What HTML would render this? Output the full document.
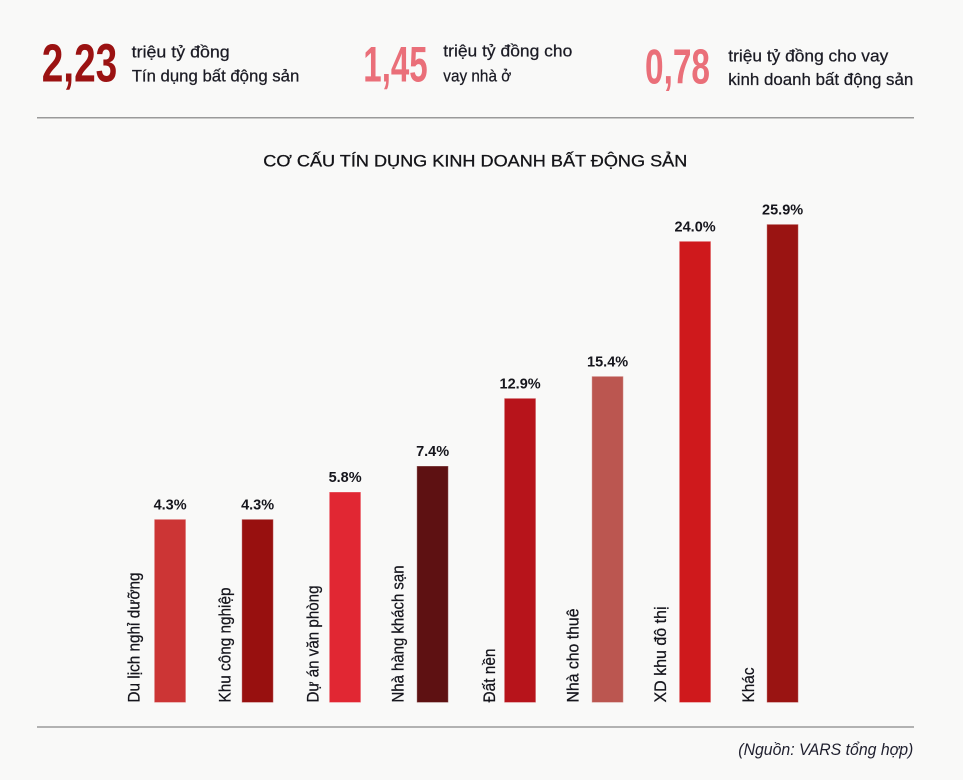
<!DOCTYPE html>
<html><head><meta charset="utf-8"><style>
html,body{margin:0;padding:0;background:#f9f9f8;}
svg{display:block;}
text{font-family:"Liberation Sans","DejaVu Sans",sans-serif;}
</style></head><body>
<svg width="963" height="780" viewBox="0 0 963 780" xmlns="http://www.w3.org/2000/svg">
<rect width="963" height="780" fill="#f9f9f8"/>
<!-- header numbers -->
<text x="41.7" y="81.7" font-size="53.5" font-weight="bold" fill="#9b1212" textLength="75.6" lengthAdjust="spacingAndGlyphs">2,23</text>
<text x="363.3" y="81.7" font-size="49.6" font-weight="bold" fill="#ea6f79" textLength="64.4" lengthAdjust="spacingAndGlyphs">1,45</text>
<text x="645" y="83.3" font-size="49" font-weight="bold" fill="#ea6f79" textLength="65" lengthAdjust="spacingAndGlyphs">0,78</text>
<!-- header descriptions -->
<g font-size="17" fill="#1b1b24" stroke="#1b1b24" stroke-width="0.25">
<text x="131.7" y="57.3" textLength="98" lengthAdjust="spacingAndGlyphs">triệu tỷ đồng</text>
<text x="131.7" y="81.7" textLength="167.6" lengthAdjust="spacingAndGlyphs">Tín dụng bất động sản</text>
<text x="443.3" y="56.7" textLength="129" lengthAdjust="spacingAndGlyphs">triệu tỷ đồng cho</text>
<text x="443.3" y="81.7" textLength="68" lengthAdjust="spacingAndGlyphs">vay nhà ở</text>
<text x="728.3" y="61.7" textLength="160" lengthAdjust="spacingAndGlyphs">triệu tỷ đồng cho vay</text>
<text x="728.3" y="85" textLength="185" lengthAdjust="spacingAndGlyphs">kinh doanh bất động sản</text>
</g>
<line x1="37" y1="117.7" x2="914" y2="117.7" stroke="#9a9a9a" stroke-width="1.5"/>
<!-- title -->
<text x="263.3" y="166.7" font-size="17" fill="#141418" stroke="#141418" stroke-width="0.3" textLength="424" lengthAdjust="spacingAndGlyphs">CƠ CẤU TÍN DỤNG KINH DOANH BẤT ĐỘNG SẢN</text>
<!-- bars -->
<g stroke-width="1" stroke-opacity="0.35" stroke="#ffffff">
<rect x="154.3" y="519.3" width="31.5" height="183.2" fill="#cc3535"/>
<rect x="241.8" y="519.3" width="31.5" height="183.2" fill="#98100f"/>
<rect x="329.3" y="492" width="31.5" height="210.5" fill="#e12733"/>
<rect x="416.8" y="466" width="31.5" height="236.5" fill="#5e1112"/>
<rect x="504.3" y="398.3" width="31.5" height="304.2" fill="#b7141b"/>
<rect x="591.8" y="376.3" width="31.5" height="326.2" fill="#bb5650"/>
<rect x="679.3" y="241.3" width="31.5" height="461.2" fill="#cf191c"/>
<rect x="766.8" y="224.3" width="31.5" height="478.2" fill="#9a1412"/>
</g>
<!-- value labels -->
<g font-size="14.5" font-weight="bold" fill="#15151c" text-anchor="middle">
<text x="170.1" y="509.3">4.3%</text>
<text x="257.6" y="509.3">4.3%</text>
<text x="345.1" y="482">5.8%</text>
<text x="432.6" y="456">7.4%</text>
<text x="520.1" y="388.3">12.9%</text>
<text x="607.6" y="366.3">15.4%</text>
<text x="695.1" y="231.3">24.0%</text>
<text x="782.6" y="214.3">25.9%</text>
</g>
<!-- category labels (rotated) -->
<g font-size="17" fill="#15151c" stroke="#15151c" stroke-width="0.25">
<text transform="translate(139.5,702.5) rotate(-90)" textLength="130" lengthAdjust="spacingAndGlyphs">Du lịch nghỉ dưỡng</text>
<text transform="translate(230.5,702.5) rotate(-90)" textLength="115" lengthAdjust="spacingAndGlyphs">Khu công nghiệp</text>
<text transform="translate(318.3,702.5) rotate(-90)" textLength="117" lengthAdjust="spacingAndGlyphs">Dự án văn phòng</text>
<text transform="translate(403.5,702.5) rotate(-90)" textLength="137" lengthAdjust="spacingAndGlyphs">Nhà hàng khách sạn</text>
<text transform="translate(495,702.5) rotate(-90)" textLength="54" lengthAdjust="spacingAndGlyphs">Đất nền</text>
<text transform="translate(578.5,702.5) rotate(-90)" textLength="94" lengthAdjust="spacingAndGlyphs">Nhà cho thuê</text>
<text transform="translate(666,702.5) rotate(-90)" textLength="96" lengthAdjust="spacingAndGlyphs">XD khu đô thị</text>
<text transform="translate(754,702.5) rotate(-90)" textLength="35" lengthAdjust="spacingAndGlyphs">Khác</text>
</g>
<line x1="37" y1="727" x2="914" y2="727" stroke="#9a9a9a" stroke-width="1.5"/>
<text x="738.3" y="755" font-size="16.5" font-style="italic" fill="#1f1f2e" textLength="175" lengthAdjust="spacingAndGlyphs">(Nguồn: VARS tổng hợp)</text>
</svg>
</body></html>
